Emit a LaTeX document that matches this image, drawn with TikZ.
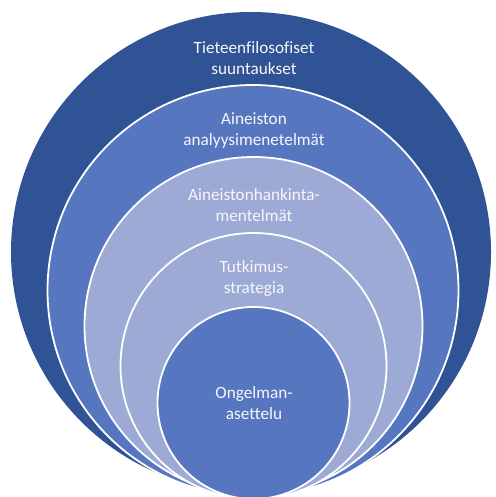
\documentclass[tikz,border=0pt]{standalone}
\usepackage{fontspec}
\setmainfont{Carlito}[Ligatures=NoCommon]
\begin{document}
\begin{tikzpicture}[x=1pt,y=-1pt,
  ring/.style={draw=white,line width=1.8pt},
  label/.style={text=white!94!gray,align=center,font=\fontsize{17.2}{21}\selectfont,inner sep=0pt}]
\definecolor{deepblue}{HTML}{2F5394}
\definecolor{midblue}{HTML}{5676C0}
\definecolor{paleblue}{HTML}{9CAAD5}
\useasboundingbox (0,0) rectangle (495,497);
\fill[white] (0,0) rectangle (495,497);
% nested circles, all touching near the bottom edge
\fill[deepblue] (251,252) circle (240);
\filldraw[ring,fill=midblue] (253,290.5) circle (205.5);
\filldraw[ring,fill=paleblue] (253.5,326) circle (169);
\filldraw[ring,fill=paleblue] (253.5,366) circle (133);
\filldraw[ring,fill=midblue] (253.5,403) circle (96);
% labels
\node[label] (philo) at (254,58.5) {Tieteenfilosofiset\\suuntaukset};
\node[label] (analysis) at (254,130.5) {Aineiston\\analyysimenetelmät};
\node[label] (collection) at (254,205) {Aineistonhankinta-\\mentelmät};
\node[label] (strategy) at (254,278.5) {Tutkimus-\\strategia};
\node[label] (problem) at (254,403) {Ongelman-\\asettelu};
\end{tikzpicture}
\end{document}
